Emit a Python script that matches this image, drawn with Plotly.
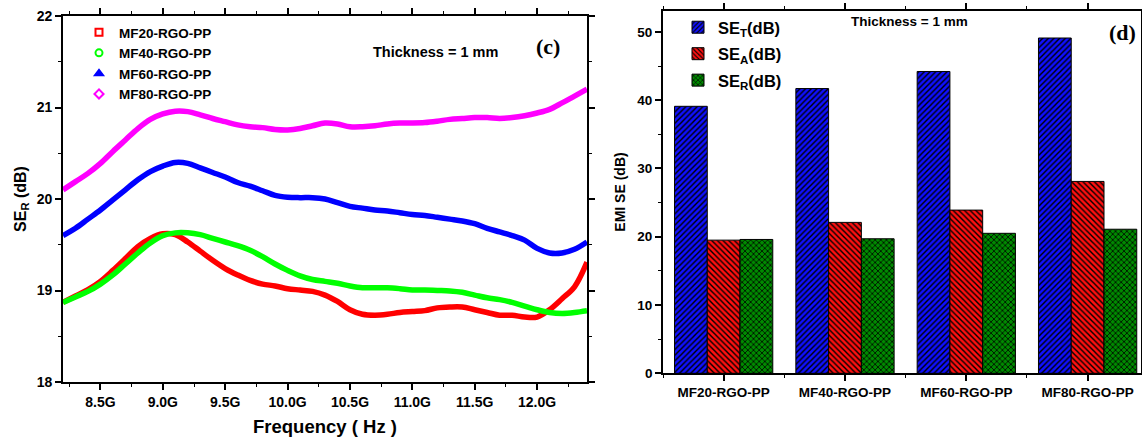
import plotly.graph_objects as go

W, H = 1142, 441

# ---------------- data: panel (c) ----------------
freq_ghz = [8.2, 8.3, 8.4, 8.5, 8.6, 8.7, 8.8, 8.9, 9.0, 9.1, 9.2, 9.3, 9.4, 9.5, 9.6,
            9.7, 9.8, 9.9, 10.0, 10.1, 10.2, 10.3, 10.4, 10.5, 10.6, 10.7, 10.8, 10.9, 11.0,
            11.1, 11.2, 11.3, 11.4, 11.5, 11.6, 11.7, 11.8, 11.9, 12.0, 12.1, 12.2, 12.3, 12.4]

mf20 = [18.87, 18.94, 19.01, 19.10, 19.22, 19.35, 19.48, 19.57, 19.62, 19.61, 19.53, 19.43, 19.33, 19.24, 19.17,
        19.11, 19.07, 19.05, 19.02, 19.005, 18.99, 18.95, 18.88, 18.79, 18.74, 18.73, 18.74, 18.76, 18.77,
        18.78, 18.81, 18.82, 18.82, 18.79, 18.76, 18.73, 18.73, 18.71, 18.71, 18.79, 18.91, 19.04, 19.31]
mf40 = [18.87, 18.93, 18.99, 19.07, 19.17, 19.29, 19.41, 19.52, 19.60, 19.63, 19.63, 19.61, 19.57, 19.53, 19.49,
        19.44, 19.37, 19.29, 19.22, 19.16, 19.12, 19.10, 19.08, 19.05, 19.03, 19.03, 19.03, 19.02, 19.005,
        19.005, 19.00, 18.995, 18.98, 18.95, 18.92, 18.90, 18.87, 18.83, 18.79, 18.76, 18.75, 18.76, 18.78]
mf60 = [19.60, 19.68, 19.78, 19.88, 19.99, 20.10, 20.21, 20.30, 20.36, 20.40, 20.39, 20.34, 20.29, 20.24, 20.18,
        20.14, 20.09, 20.04, 20.02, 20.015, 20.015, 20.00, 19.96, 19.92, 19.90, 19.88, 19.87, 19.85, 19.83,
        19.82, 19.80, 19.78, 19.76, 19.73, 19.68, 19.64, 19.60, 19.55, 19.46, 19.41, 19.41, 19.45, 19.53]
mf80 = [20.10, 20.19, 20.28, 20.39, 20.52, 20.645, 20.77, 20.87, 20.93, 20.96, 20.955, 20.92, 20.88, 20.845, 20.81,
        20.79, 20.78, 20.76, 20.755, 20.77, 20.80, 20.83, 20.82, 20.79, 20.79, 20.80, 20.82, 20.83, 20.83,
        20.835, 20.85, 20.87, 20.88, 20.89, 20.89, 20.88, 20.89, 20.91, 20.94, 20.98, 21.05, 21.125, 21.20]

series_names = ["MF20-RGO-PP", "MF40-RGO-PP", "MF60-RGO-PP", "MF80-RGO-PP"]
freq_tickvals = [8.5, 9.0, 9.5, 10.0, 10.5, 11.0, 11.5, 12.0]
freq_ticktext = ["8.5G", "9.0G", "9.5G", "10.0G", "10.5G", "11.0G", "11.5G", "12.0G"]

# ---------------- data: panel (d) ----------------
samples = ["MF20-RGO-PP", "MF40-RGO-PP", "MF60-RGO-PP", "MF80-RGO-PP"]
se_t = [39.1, 41.7, 44.2, 49.1]
se_a = [19.5, 22.1, 23.9, 28.1]
se_r = [19.6, 19.7, 20.5, 21.1]

FONT = "Liberation Sans, Arial, sans-serif"
SERIF = "Liberation Serif, Times New Roman, serif"

def px(x):
    return x / W

def py(y):
    return 1 - y / H

fig = go.Figure()

colors = ["#ff0000", "#00ff00", "#0000ff", "#ff00ff"]
symbols = ["square-open", "circle-open", "triangle-up", "diamond-open"]
for name, vals, col, sym in zip(series_names, [mf20, mf40, mf60, mf80], colors, symbols):
    fig.add_trace(go.Scatter(
        x=freq_ghz, y=vals, mode="lines", line=dict(color=col, width=5.5, shape="spline"),
        showlegend=False, xaxis="x", yaxis="y", hoverinfo="skip"))
    fig.add_trace(go.Scatter(
        x=[None], y=[None], mode="markers", name=name,
        marker=dict(color=col, symbol=sym, size=7, line=dict(width=2, color=col)),
        xaxis="x", yaxis="y", legend="legend"))

bar_specs = [
    ("SE<sub>T</sub>(dB)", se_t, "#1010ff", "/"),
    ("SE<sub>A</sub>(dB)", se_a, "#ff1010", "\\"),
    ("SE<sub>R</sub>(dB)", se_r, "#008a00", "x"),
]
for i, (name, vals, col, shp) in enumerate(bar_specs):
    fig.add_trace(go.Bar(
        x=list(range(len(samples))), y=vals, name=name, legendgroup=f"g{i}",
        marker=dict(color=col, line=dict(color="#000000", width=1),
                    pattern=dict(shape=shp, fgcolor="#000000", bgcolor=col, size=4, solidity=0.35,
                                 fillmode="replace")),
        xaxis="x2", yaxis="y2", legend="legend2"))

axis_common = dict(
    showline=True, linecolor="black", linewidth=1.8, mirror="allticks",
    ticks="outside", tickcolor="black", tickwidth=1.5, ticklen=6,
    showgrid=False, zeroline=False, automargin=False,
    tickfont=dict(family=FONT, size=14, color="black", weight="bold"),
)

def note(text, x, y, family, size):
    return dict(text=text, x=px(x), y=py(y), xref="paper", yref="paper",
                xanchor="center", yanchor="middle", showarrow=False,
                font=dict(family=family, size=size, color="black", weight="bold"))

fig.update_layout(
    width=W, height=H,
    margin=dict(l=0, r=0, t=0, b=0, autoexpand=False),
    paper_bgcolor="white", plot_bgcolor="white",
    font=dict(family=FONT, color="black"),
    barmode="group", bargap=0.19, bargroupgap=0,
    xaxis=dict(
        domain=[px(63), px(587)], range=[8.2, 12.4], anchor="y",
        tickmode="array", tickvals=freq_tickvals, ticktext=freq_ticktext,
        minor=dict(dtick=0.25, tick0=8.25, ticks="outside", ticklen=3, tickcolor="black", tickwidth=1.2),
        title=dict(text="Frequency ( Hz )", font=dict(family=FONT, size=18.5, weight="bold"), standoff=11),
        **axis_common),
    yaxis=dict(
        domain=[py(382), py(16)], range=[18, 22], anchor="x",
        tickmode="array", tickvals=[18, 19, 20, 21, 22],
        minor=dict(dtick=0.5, tick0=18, ticks="outside", ticklen=3, tickcolor="black", tickwidth=1.2),
        title=dict(text="SE<sub>R</sub> (dB)", font=dict(family=FONT, size=16, weight="bold"), standoff=6),
        **axis_common),
    xaxis2=dict(
        domain=[px(663), px(1141)], range=[-0.5, 3.44], anchor="y2",
        tickmode="array", tickvals=[0, 1, 2, 3], ticktext=samples,
        minor=dict(dtick=1, tick0=0.5, ticks="outside", ticklen=3, tickcolor="black", tickwidth=1.2),
        **{**axis_common, "tickfont": dict(family=FONT, size=13.5, color="black", weight="bold")}),
    yaxis2=dict(
        domain=[py(373.3), py(10.7)], range=[0, 53.1], anchor="x2",
        tickmode="array", tickvals=[0, 10, 20, 30, 40, 50],
        minor=dict(dtick=5, tick0=0, ticks="outside", ticklen=3, tickcolor="black", tickwidth=1.2),
        title=dict(text="EMI SE (dB)", font=dict(family=FONT, size=14, weight="bold"), standoff=8),
        **{**axis_common, "tickfont": dict(family=FONT, size=13.5, color="black", weight="bold")}),
    legend=dict(
        x=px(79), y=py(17), xanchor="left", yanchor="top",
        bgcolor="rgba(0,0,0,0)", borderwidth=0, tracegroupgap=0,
        font=dict(family=FONT, size=13.5, color="black", weight="bold"), itemwidth=30),
    legend2=dict(
        x=px(678), y=py(10), xanchor="left", yanchor="top",
        bgcolor="rgba(0,0,0,0)", borderwidth=0, tracegroupgap=2,
        font=dict(family=FONT, size=16.5, color="black", weight="bold")),
    annotations=[
        note("Thickness = 1 mm", 435, 52, FONT, 14.5),
        note("(c)", 548, 46, SERIF, 22),
        note("Thickness = 1 mm", 909, 22, FONT, 13.5),
        note("(d)", 1122, 33, SERIF, 22),
    ],
)

fig.write_html("out.html", post_script="document.body.style.margin='0';",
               config={"displayModeBar": False})
